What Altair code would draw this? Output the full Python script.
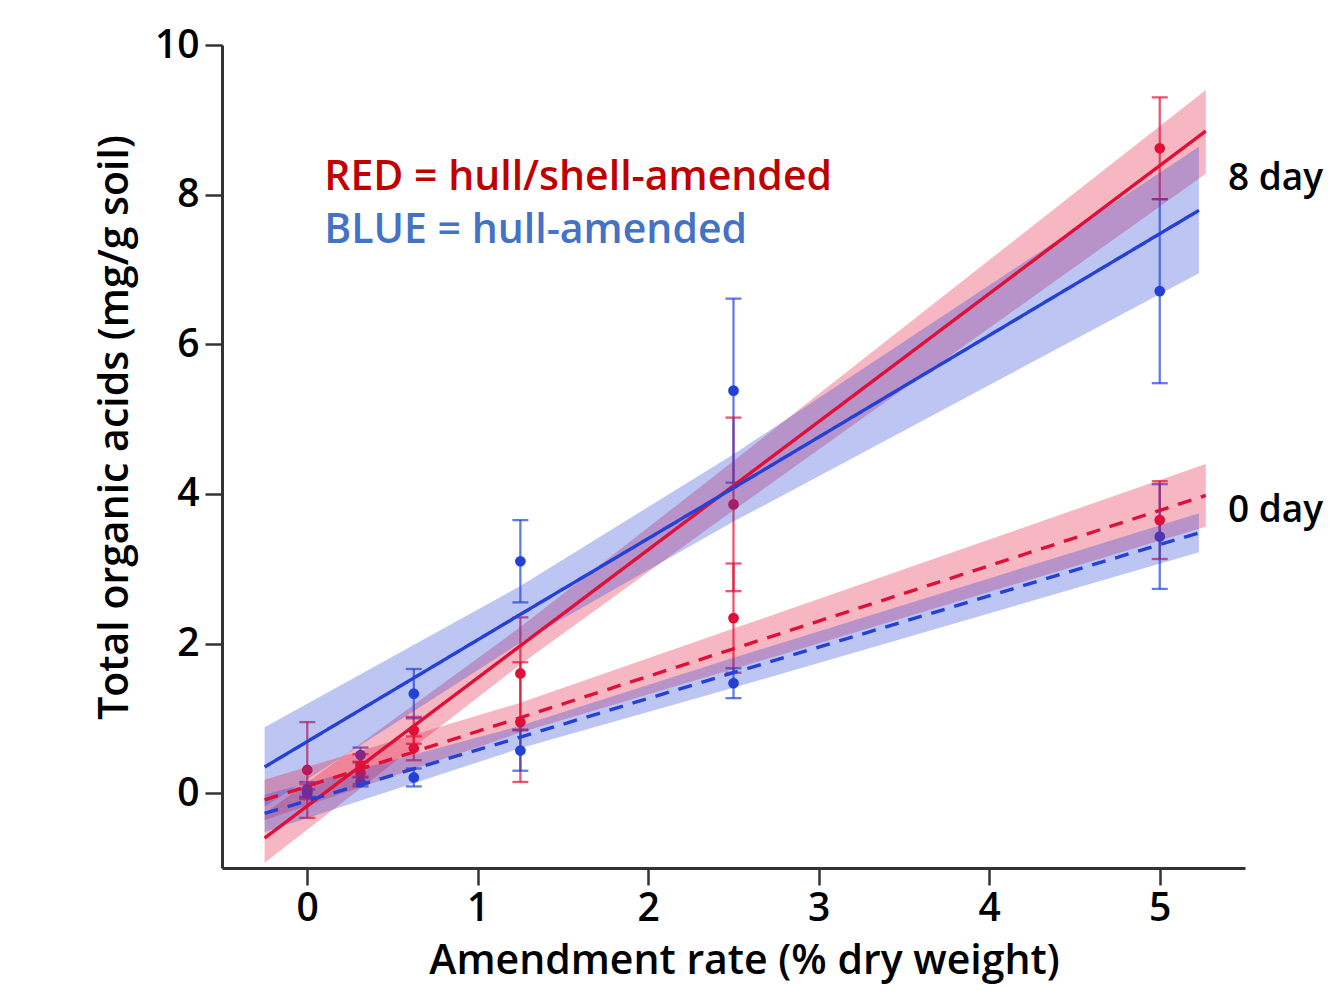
import altair as alt
import pandas as pd

# ---- data ----
rates = [0, 0.3125, 0.625, 1.25, 2.5, 5]

red8_mean = [0.31, 0.37, 0.84, 1.60, 3.86, 8.62]
red8_err = [0.64, 0.15, 0.18, 0.75, 1.16, 0.68]
blue8_mean = [0.05, 0.51, 1.33, 3.10, 5.38, 6.71]
blue8_err = [0.10, 0.10, 0.33, 0.55, 1.23, 1.23]
red0_mean = [0.02, 0.27, 0.60, 0.95, 2.34, 3.65]
red0_err = [0.10, 0.15, 0.16, 0.80, 0.73, 0.52]
blue0_mean = [0.00, 0.15, 0.21, 0.57, 1.47, 3.43]
blue0_err = [0.05, 0.06, 0.12, 0.27, 0.20, 0.70]

# regression fits with confidence bands (x, fit, lower, upper)
red8_fit_x = [-0.25, 1.25, 2.5, 5.27]
red8_fit = [-0.60, 1.97, 4.11, 8.85]
red8_lo = [-0.93, 1.72, 3.78, 8.28]
red8_hi = [-0.27, 2.22, 4.44, 9.40]

blue8_fit_x = [-0.25, 1.25, 2.5, 5.23]
blue8_fit = [0.35, 2.39, 4.08, 7.79]
blue8_lo = [-0.18, 2.01, 3.63, 6.95]
blue8_hi = [0.88, 2.77, 4.53, 8.64]

red0_fit_x = [-0.25, 1.25, 2.5, 5.27]
red0_fit = [-0.09, 1.01, 1.93, 3.98]
red0_lo = [-0.36, 0.81, 1.66, 3.56]
red0_hi = [0.18, 1.21, 2.20, 4.40]

blue0_fit_x = [-0.25, 1.25, 2.5, 5.23]
blue0_fit = [-0.27, 0.75, 1.61, 3.48]
blue0_lo = [-0.52, 0.60, 1.41, 3.22]
blue0_hi = [-0.02, 0.90, 1.81, 3.74]

x_ticks = [0, 1, 2, 3, 4, 5]
y_ticks = [0, 2, 4, 6, 8, 10]

legend_lines = ["RED = hull/shell-amended", "BLUE = hull-amended"]
legend_colors = ["#c00000", "#4472c4"]
day_labels = ["8 day", "0 day"]

# ---- build tables ----
pts = []
for mat, day, means, errs in [
    ("red", "8 day", red8_mean, red8_err),
    ("blue", "8 day", blue8_mean, blue8_err),
    ("red", "0 day", red0_mean, red0_err),
    ("blue", "0 day", blue0_mean, blue0_err),
]:
    for x, m, e in zip(rates, means, errs):
        pts.append({"material": mat, "day": day, "x": x, "mean": m,
                    "lo": m - e, "hi": m + e})
pts = pd.DataFrame(pts)

fits = []
for mat, day, xs, f, lo, hi in [
    ("red", "8 day", red8_fit_x, red8_fit, red8_lo, red8_hi),
    ("blue", "8 day", blue8_fit_x, blue8_fit, blue8_lo, blue8_hi),
    ("red", "0 day", red0_fit_x, red0_fit, red0_lo, red0_hi),
    ("blue", "0 day", blue0_fit_x, blue0_fit, blue0_lo, blue0_hi),
]:
    for x, a, b, c in zip(xs, f, lo, hi):
        fits.append({"material": mat, "day": day, "x": x, "fit": a,
                     "lo": b, "hi": c, "series": mat + day})
fits = pd.DataFrame(fits)

legend_df = pd.DataFrame({"text": legend_lines, "color": legend_colors,
                          "x": [0.10, 0.10], "y": [8.06, 7.35]})
day_df = pd.DataFrame({"text": day_labels, "x": [5.40, 5.40], "y": [8.06, 3.62]})

FONT = "Open Sans"
W = 600
xscale = alt.Scale(domain=[-0.5, 5.5], nice=False, zero=False)
yscale = alt.Scale(domain=[-1, 10], nice=False, zero=False)
line_col = alt.Scale(domain=["red", "blue"], range=["#e00f37", "#2341d7"])
band_col = alt.Scale(domain=["red", "blue"], range=["#e82850", "#3a5ade"])

X = alt.X("x:Q", scale=xscale,
          axis=alt.Axis(values=x_ticks, format="d", title="Amendment rate (% dry weight)",
                        titleX=522, titleY=105, titleBaseline="alphabetic",
                        titleAnchor="start", titleAlign="center", labelPadding=4))
Y = alt.Y("mean:Q", scale=yscale,
          axis=alt.Axis(values=y_ticks, format="d", title="Total organic acids (mg/g soil)",
                        titleX=-107, titleY=382, titleBaseline="middle",
                        titleAlign="center", titleAngle=-90, labelPadding=6))

base = alt.Chart(pts)

bars = base.mark_rule(strokeWidth=2.3, opacity=0.7).encode(
    x=X, y=alt.Y("lo:Q", scale=yscale), y2="hi:Q",
    color=alt.Color("material:N", scale=line_col, legend=None))
caps_hi = base.mark_tick(orient="horizontal", size=16, thickness=2.3, opacity=0.7).encode(
    x="x:Q", y=alt.Y("hi:Q", scale=yscale),
    color=alt.Color("material:N", scale=line_col, legend=None))
caps_lo = base.mark_tick(orient="horizontal", size=16, thickness=2.3, opacity=0.7).encode(
    x="x:Q", y=alt.Y("lo:Q", scale=yscale),
    color=alt.Color("material:N", scale=line_col, legend=None))
dots = base.mark_circle(size=115, opacity=1).encode(
    x="x:Q", y=Y,
    color=alt.Color("material:N", scale=line_col, legend=None))

fbase = alt.Chart(fits)
bands = fbase.mark_area(opacity=0.3).encode(
    x="x:Q", y=alt.Y("lo:Q", scale=yscale), y2="hi:Q",
    color=alt.Color("material:N", scale=band_col, legend=None),
    detail="series:N")
lines = fbase.mark_line(strokeWidth=3.4).encode(
    x="x:Q", y=alt.Y("fit:Q", scale=yscale),
    color=alt.Color("material:N", scale=line_col, legend=None),
    strokeDash=alt.StrokeDash("day:N", scale=alt.Scale(domain=["8 day", "0 day"],
                              range=[[1, 0], [14, 10]]), legend=None),
    detail="series:N")

legend_txt = alt.Chart(legend_df).mark_text(
    align="left", baseline="alphabetic", fontSize=41, font=FONT, fontWeight=W).encode(
    x="x:Q", y=alt.Y("y:Q", scale=yscale), text="text:N",
    color=alt.Color("color:N", scale=None))
day_txt = alt.Chart(day_df).mark_text(
    align="left", baseline="alphabetic", fontSize=37, font=FONT, fontWeight=W,
    color="black").encode(
    x="x:Q", y=alt.Y("y:Q", scale=yscale), text="text:N")

chart = alt.layer(bars, caps_hi, caps_lo, dots, bands, lines, legend_txt, day_txt).properties(
    width=1023, height=823,
    autosize=alt.AutoSizeParams(type="none"),
    padding={"left": 214, "top": 37, "right": 84, "bottom": 118},
).configure_view(stroke=None).configure_axis(
    grid=False, domainColor="#333333", domainWidth=3, tickColor="#333333",
    tickWidth=2.5, tickSize=17, labelFontSize=39, labelFont=FONT, labelColor="black",
    labelFontWeight=W,
    titleFont=FONT, titleFontSize=41, titleColor="black", titleFontWeight=W,
)

chart.save("out.html", embed_options={"renderer": "svg", "actions": False})
